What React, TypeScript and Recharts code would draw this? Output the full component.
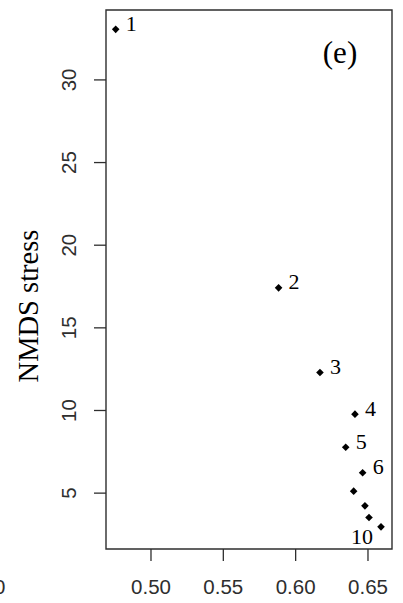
import React from "react";
import {
  ScatterChart, Scatter, XAxis, YAxis, ReferenceArea, LabelList, Customized,
} from "recharts";

// correlation on x, NMDS stress on y, one point per number of dimensions
// (the reference only labels 1-6 and 10)
const dims = ["1", "2", "3", "4", "5", "6", "", "", "", "10"];
const corr = [0.4756, 0.5882, 0.6168, 0.641, 0.6346, 0.6463, 0.6401, 0.6479, 0.6507, 0.659];
const stress = [33.06, 17.42, 12.3, 9.78, 7.78, 6.23, 5.12, 4.23, 3.53, 2.96];

const xTicks = [0.5, 0.55, 0.6, 0.65];
const yTicks = [5, 10, 15, 20, 25, 30];
const xDomain: [number, number] = [0.4689, 0.6666];
const yDomain: [number, number] = [1.62, 34.23];

const data = dims.map((d, i) => ({ name: d, x: corr[i], y: stress[i] }));

const INK = "#2e2e2e";
const SANS = "'Liberation Sans', Arial, sans-serif";
const SERIF = "'Liberation Serif', 'Times New Roman', serif";

const Diamond = (props: any) => {
  const { cx, cy } = props;
  const r = 3.8;
  return (
    <polygon
      points={`${cx},${cy - r} ${cx + r},${cy} ${cx},${cy + r} ${cx - r},${cy}`}
      fill="#000"
    />
  );
};

const XTick = (props: any) => {
  const { x, payload } = props;
  return (
    <text x={x} y={594} textAnchor="middle" fontFamily={SANS} fontSize={20.5} fill={INK}>
      {payload.value.toFixed(2)}
    </text>
  );
};

const YTick = (props: any) => {
  const { y, payload } = props;
  return (
    <text
      x={69}
      y={y}
      transform={`rotate(-90, 69, ${y})`}
      textAnchor="middle"
      dominantBaseline="central"
      fontFamily={SANS}
      fontSize={20.5}
      fill={INK}
    >
      {payload.value}
    </text>
  );
};

const PointLabel = (props: any) => {
  const { x, y, width, height, value } = props;
  if (!value) return null;
  const cx = x + width / 2;
  const cy = y + height / 2;
  // the last label sits under and left of its point
  if (value === "10") {
    return (
      <text x={cx - 19} y={cy + 10} textAnchor="middle" dominantBaseline="central"
        fontFamily={SERIF} fontSize={22} fill="#000">
        {value}
      </text>
    );
  }
  return (
    <text x={cx + 10} y={cy - 6} textAnchor="start" dominantBaseline="central"
      fontFamily={SERIF} fontSize={22} fill="#000">
      {value}
    </text>
  );
};

const Extras = () => (
  <g>
    <text x={28} y={306} transform="rotate(-90, 28, 306)" textAnchor="middle"
      dominantBaseline="central" fontFamily={SERIF} fontSize={28.5} fill="#000">
      NMDS stress
    </text>
    <text x={340} y={52} textAnchor="middle" dominantBaseline="central"
      fontFamily={SERIF} fontSize={31} fill="#000">
      (e)
    </text>
    <text x={-6} y={594} fontFamily={SANS} fontSize={20.5} fill={INK}>0</text>
  </g>
);

export default function App() {
  return (
    <div style={{ position: "absolute", left: 0, top: 0, width: 403, height: 603, background: "#fff" }}>
      <ScatterChart width={403} height={603} margin={{ top: 10, right: 11, bottom: 0, left: 0 }}>
        <XAxis
          type="number"
          dataKey="x"
          domain={xDomain}
          ticks={xTicks}
          allowDataOverflow
          height={54}
          tickSize={12}
          tickLine={{ stroke: INK, strokeWidth: 1.3 }}
          axisLine={false}
          tick={<XTick />}
        />
        <YAxis
          type="number"
          dataKey="y"
          domain={yDomain}
          ticks={yTicks}
          allowDataOverflow
          width={106}
          tickSize={12}
          tickLine={{ stroke: INK, strokeWidth: 1.3 }}
          axisLine={false}
          tick={<YTick />}
        />
        <ReferenceArea
          x1={xDomain[0]}
          x2={xDomain[1]}
          y1={yDomain[0]}
          y2={yDomain[1]}
          fill="none"
          stroke={INK}
          strokeWidth={1.4}
        />
        <Scatter data={data} shape={<Diamond />} isAnimationActive={false}>
          <LabelList dataKey="name" content={<PointLabel />} />
        </Scatter>
        <Customized component={Extras} />
      </ScatterChart>
    </div>
  );
}
